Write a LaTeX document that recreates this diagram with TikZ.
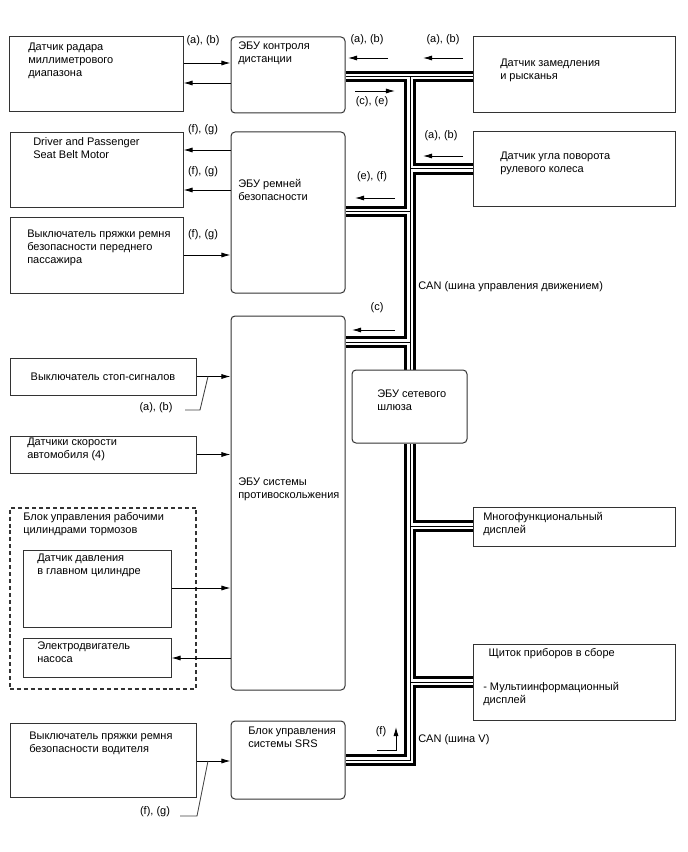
\documentclass[tikz,border=0pt]{standalone}
\usepackage{fontspec}
\setmainfont{Liberation Sans}
\usetikzlibrary{arrows.meta,fit,backgrounds}

\begin{document}
\begin{tikzpicture}[
    x=0.75pt, y=-0.75pt,
    box/.style={draw=black!80, line width=0.75pt, inner sep=0pt},
    ecu/.style={box, rounded corners=3pt},
    grp/.style={draw=black!80, line width=0.8pt, dash pattern=on 3pt off 2.2pt, inner sep=0pt},
    txt/.style={font=\fontsize{8.25pt}{9.6pt}\selectfont, align=left, inner sep=0pt, anchor=north west},
    lab/.style={font=\fontsize{8.25pt}{9.6pt}\selectfont, inner sep=0pt},
    sig/.style={line width=0.65pt, -{Latex[length=6.8pt,width=3.8pt]}},
    lead/.style={line width=0.65pt, black!75},
    bus/.style={draw=white, line width=4.1pt,
        preaction={draw=black, line width=8.6pt},
        postaction={draw=black, line width=0.75pt}}
]
\useasboundingbox (0,0) rectangle (688,852);

% ================= left column =================

\node[box, fit={(9,37) (183,112)}] (radar) {};
\node[txt] (radar-t) at (28,43) {Датчик радара\\миллиметрового\\диапазона};

\node[box, fit={(10,133) (183,208)}] (motor) {};
\node[txt] (motor-t) at (33,137) {Driver and Passenger\\Seat Belt Motor};

\node[box, fit={(10,218) (183,293)}] (pbuckle) {};
\node[txt] (pbuckle-t) at (27,230) {Выключатель пряжки ремня\\безопасности переднего\\пассажира};

\node[box, fit={(10,358) (196,395)}] (stop) {};
\node[lab] (stop-t) at (stop.center) {Выключатель стоп-сигналов};

\node[box, fit={(10,436) (196,473)}] (speed) {};
\node[txt] (speed-t) at (27,438) {Датчики скорости\\автомобиля (4)};

\node[grp, fit={(10,508) (196,689)}] (brk) {};
\node[txt] (brk-t) at (23,512) {Блок управления рабочими\\цилиндрами тормозов};

\node[box, fit={(23,550) (171,627)}] (mcyl) {};
\node[txt] (mcyl-t) at (37,554) {Датчик давления\\в главном цилиндре};

\node[box, fit={(23,638) (171,677)}] (pump) {};
\node[txt] (pump-t) at (37,642) {Электродвигатель\\насоса};

\node[box, fit={(10,723) (196,797)}] (dbuckle) {};
\node[txt] (dbuckle-t) at (29,732) {Выключатель пряжки ремня\\безопасности водителя};

% ================= ECUs =================

\node[ecu, fit={(231,37) (345,113)}] (dist) {};
\node[txt] (dist-t) at (238,42) {ЭБУ контроля\\дистанции};

\node[ecu, fit={(231,132) (345,293)}] (belt) {};
\node[txt] (belt-t) at (238,179) {ЭБУ ремней\\безопасности};

\node[ecu, fit={(231,316) (345,690)}] (abs) {};
\node[txt] (abs-t) at (238,478) {ЭБУ системы\\противоскольжения};

\node[ecu, fit={(231,721) (345,799)}] (srs) {};
\node[txt] (srs-t) at (248,727) {Блок управления\\системы SRS};

\node[ecu, fit={(352,370) (467,443)}] (gw) {};
\node[txt] (gw-t) at (377,390) {ЭБУ сетевого\\шлюза};

% ================= right column =================

\node[box, fit={(473,37) (675,113)}] (decel) {};
\node[txt] (decel-t) at (500,59) {Датчик замедления\\и рысканья};

\node[box, fit={(473,132) (675,207)}] (steer) {};
\node[txt] (steer-t) at (500,152) {Датчик угла поворота\\рулевого колеса};

\node[box, fit={(473,507) (675,546)}] (mfd) {};
\node[txt] (mfd-t) at (483,512) {Многофункциональный\\дисплей};

\node[box, fit={(473,644) (675,720)}] (cluster) {};
\node[txt] (cluster-t) at (483,648) {\hspace*{4pt}Щиток приборов в сборе\\[16pt]- Мультиинформационный\\дисплей};

% ================= CAN bus =================

\coordinate (j0) at (410,76.5);
\coordinate (j1) at (410,169);
\coordinate (j2) at (410,211.5);
\coordinate (j3) at (410,342);
\coordinate (j4) at (410,526);
\coordinate (j5) at (410,682);
\coordinate (j6) at (410,760);

\begin{scope}[on background layer]
\draw[bus] (dist.east |- j0) -- (decel.west |- j0)
    (j0) -- (gw.north -| j0)
    (j1) -- (steer.west |- j1)
    (belt.east |- j2) -- (j2)
    (abs.east |- j3) -- (j3)
    (gw.south -| j0) -- (j6) -- (srs.east |- j6)
    (j4) -- (mfd.west |- j4)
    (j5) -- (cluster.west |- j5);
\end{scope}

\node[lab, anchor=west] (can1) at (418,287) {CAN (шина управления движением)};
\node[lab, anchor=west] (can2) at (418,740) {CAN (шина V)};

% ================= signals =================

\draw[sig] (radar.east |- 0,63) -- (dist.west |- 0,63);
\draw[sig] (dist.west |- 0,83) -- (radar.east |- 0,83);
\node[lab] (s1) at (203,41) {(a), (b)};

\draw[sig] (belt.west |- 0,150) -- (motor.east |- 0,150);
\draw[sig] (belt.west |- 0,190) -- (motor.east |- 0,190);
\draw[sig] (pbuckle.east |- 0,255) -- (belt.west |- 0,255);
\node[lab] (s2) at (203,130) {(f), (g)};
\node[lab] (s3) at (203,172) {(f), (g)};
\node[lab] (s4) at (203,235) {(f), (g)};

\draw[sig] (stop.east) -- (stop.east -| abs.west);
\draw[sig] (speed.east) -- (speed.east -| abs.west);
\draw[sig] (mcyl.east |- 0,588) -- (abs.west |- 0,588);
\draw[sig] (abs.west |- 0,658) -- (pump.east |- 0,658);
\draw[sig] (dbuckle.east |- 0,761) -- (srs.west |- 0,761);

\coordinate (p1) at (208,376.5);
\coordinate (p2) at (208,761);
\draw[lead] (p1) -- (200,410) -- (185,410);
\draw[lead] (p2) -- (197,816) -- (180,816);
\node[lab] (s5) at (156,408) {(a), (b)};
\node[lab] (s6) at (155,812) {(f), (g)};

% flow marks along the bus
\coordinate (m1) at (388,58);  \coordinate (m2) at (463,58);
\coordinate (m3) at (355,91);  \coordinate (m4) at (463,156);
\coordinate (m5) at (395,198); \coordinate (m6) at (395,330);
\coordinate (m7) at (377,750);
\draw[sig] (m1) -- ++(-40,0);
\draw[sig] (m2) -- ++(-40,0);
\draw[sig] (m3) -- ++(40,0);
\draw[sig] (m4) -- ++(-40,0);
\draw[sig] (m5) -- ++(-40,0);
\draw[sig] (m6) -- ++(-43,0);
\draw[sig] (m7) -- ++(19,0) -- ++(0,-23);
\node[lab] (s7) at (367,40) {(a), (b)};
\node[lab] (s8) at (443,40) {(a), (b)};
\node[lab] (s9) at (372,102) {(c), (e)};
\node[lab] (s10) at (441,136) {(a), (b)};
\node[lab] (s11) at (372,177) {(e), (f)};
\node[lab] (s12) at (377,308) {(c)};
\node[lab] (s13) at (381,732) {(f)};

\end{tikzpicture}
\end{document}
